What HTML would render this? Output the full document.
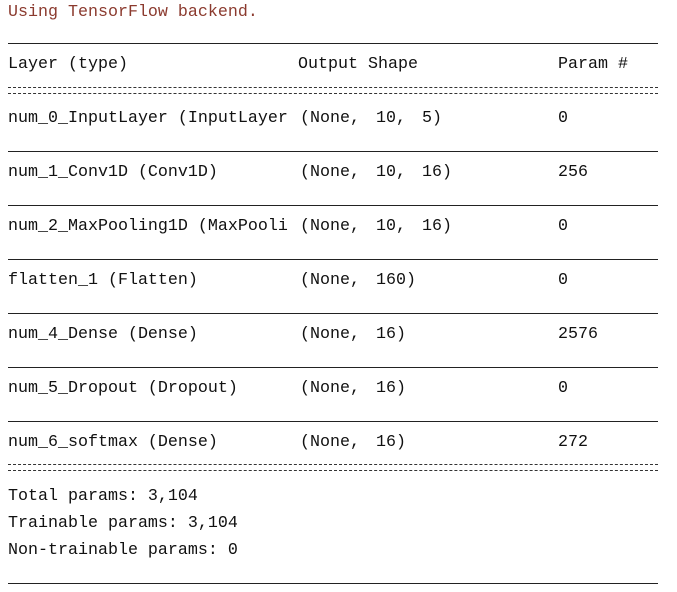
<!DOCTYPE html>
<html><head><meta charset="utf-8"><style>
html,body{margin:0;padding:0;background:#fff;width:677px;height:592px;overflow:hidden}
body{position:relative;font-family:"Liberation Mono","Noto Sans CJK SC",monospace;font-size:16.67px;color:#111}
.t{position:absolute;white-space:pre;line-height:20px}
.s{word-spacing:6px}
.u{position:absolute;left:8px;width:650px;height:0;border-top:1px solid #222}
.e{position:absolute;left:8px;width:650px;height:5px;border-top:1px dashed #333;border-bottom:1px dashed #333}
</style></head><body>
<div class="t" style="left:8px;top:3px;color:#8b3a2e">Using TensorFlow backend.</div>
<div class="u" style="top:43px"></div>
<div class="t" style="left:8px;top:55px">Layer (type)</div>
<div class="t" style="left:298px;top:55px">Output Shape</div>
<div class="t" style="left:558px;top:55px">Param #</div>
<div class="e" style="top:87px"></div>

<div class="t" style="left:8px;top:109px">num_0_InputLayer (InputLayer</div>
<div class="t s" style="left:300px;top:109px">(None, 10, 5)</div>
<div class="t" style="left:558px;top:109px">0</div>
<div class="u" style="top:151px"></div>

<div class="t" style="left:8px;top:163px">num_1_Conv1D (Conv1D)</div>
<div class="t s" style="left:300px;top:163px">(None, 10, 16)</div>
<div class="t" style="left:558px;top:163px">256</div>
<div class="u" style="top:205px"></div>

<div class="t" style="left:8px;top:217px">num_2_MaxPooling1D (MaxPooli</div>
<div class="t s" style="left:300px;top:217px">(None, 10, 16)</div>
<div class="t" style="left:558px;top:217px">0</div>
<div class="u" style="top:259px"></div>

<div class="t" style="left:8px;top:271px">flatten_1 (Flatten)</div>
<div class="t s" style="left:300px;top:271px">(None, 160)</div>
<div class="t" style="left:558px;top:271px">0</div>
<div class="u" style="top:313px"></div>

<div class="t" style="left:8px;top:325px">num_4_Dense (Dense)</div>
<div class="t s" style="left:300px;top:325px">(None, 16)</div>
<div class="t" style="left:558px;top:325px">2576</div>
<div class="u" style="top:367px"></div>

<div class="t" style="left:8px;top:379px">num_5_Dropout (Dropout)</div>
<div class="t s" style="left:300px;top:379px">(None, 16)</div>
<div class="t" style="left:558px;top:379px">0</div>
<div class="u" style="top:421px"></div>

<div class="t" style="left:8px;top:433px">num_6_softmax (Dense)</div>
<div class="t s" style="left:300px;top:433px">(None, 16)</div>
<div class="t" style="left:558px;top:433px">272</div>
<div class="e" style="top:464px"></div>

<div class="t" style="left:8px;top:487px">Total params: 3,104</div>
<div class="t" style="left:8px;top:514px">Trainable params: 3,104</div>
<div class="t" style="left:8px;top:541px">Non-trainable params: 0</div>
<div class="u" style="top:583px"></div>
</body></html>
